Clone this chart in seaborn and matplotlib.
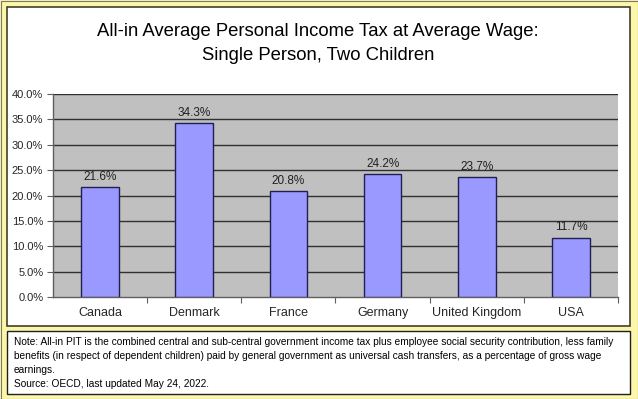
import matplotlib
matplotlib.use("Agg")
import matplotlib.pyplot as plt
import seaborn as sns
import pandas as pd
from matplotlib.patches import Rectangle
from matplotlib.ticker import FuncFormatter, FixedLocator

countries = ["Canada", "Denmark", "France", "Germany", "United Kingdom", "USA"]
values = [21.6, 34.3, 20.8, 24.2, 23.7, 11.7]
yticks = [0, 5, 10, 15, 20, 25, 30, 35, 40]
title_lines = ["All-in Average Personal Income Tax at Average Wage:",
               "Single Person, Two Children"]
note_lines = [
    "Note: All-in PIT is the combined central and sub-central government income tax plus employee social security contribution, less family",
    "benefits (in respect of dependent children) paid by general government as universal cash transfers, as a percentage of gross wage",
    "earnings.",
]
source = "Source: OECD, last updated May 24, 2022."

sns.set_theme(style="white")
plt.rcParams["font.family"] = ["Liberation Sans", "DejaVu Sans"]

W, H = 638, 399
fig = plt.figure(figsize=(W / 100, H / 100), dpi=100)
fig.patch.set_facecolor("#FBF6A8")

def px_rect(x0, y0, x1, y1, **kw):
    r = Rectangle((x0 / W, 1 - y1 / H), (x1 - x0) / W, (y1 - y0) / H,
                  transform=fig.transFigure, zorder=-5, **kw)
    fig.patches.append(r)

# outer border
px_rect(0.5, 0.5, W - 0.5, H - 0.5, facecolor="none", edgecolor="#777777", linewidth=0.8)
# chart panel
px_rect(7, 7, 630, 326, facecolor="white", edgecolor="#404030", linewidth=1.2)
# note panel
px_rect(7, 331, 630, 394, facecolor="white", edgecolor="#202020", linewidth=1.0)

ax = fig.add_axes([53 / W, 1 - 297 / H, (618 - 53) / W, (297 - 94) / H])
ax.set_zorder(5)
df = pd.DataFrame({"country": countries, "value": values})
sns.barplot(data=df, x="country", y="value", color="#9999FF", saturation=1,
            edgecolor="#202050", linewidth=1.0, width=0.4, ax=ax, zorder=3)
ax.set_facecolor("#C0C0C0")
ax.set_ylim(0, 40)
ax.set_xlim(-0.5, len(countries) - 0.5)
ax.yaxis.set_major_locator(FixedLocator(yticks))
ax.yaxis.set_major_formatter(FuncFormatter(lambda v, p: f"{v:.1f}%"))
for y in yticks[1:]:
    ax.axhline(y, color="#303030", linewidth=1.0, zorder=1)
ax.set_xlabel("")
ax.set_ylabel("")
for s in ["top", "right"]:
    ax.spines[s].set_visible(False)
for s in ["left", "bottom"]:
    ax.spines[s].set_color("#606060")
    ax.spines[s].set_linewidth(1.0)
ax.tick_params(axis="y", which="major", length=4, width=0.8, color="#606060",
               direction="out", labelsize=8, pad=3, left=True)
ax.tick_params(axis="x", which="major", length=0, labelsize=9, pad=7)
ax.set_xticks([i + 0.5 for i in range(len(countries))], minor=True)
ax.tick_params(axis="x", which="minor", length=4, width=0.8, color="#606060",
               direction="out", bottom=True)
for c in ax.containers:
    ax.bar_label(c, labels=[f"{v:.1f}%" for v in values], padding=3, fontsize=8.5,
                 color="#202020")

for t, y in zip(title_lines, [32, 55]):
    fig.text(318 / W, 1 - y / H, t, ha="center", va="center", fontsize=13.3,
             color="black")

ys = [342, 356, 370]
for t, y in zip(note_lines, ys):
    fig.text(14 / W, 1 - y / H, t, ha="left", va="center", fontsize=7.25, color="black")
fig.text(14 / W, 1 - 384 / H, source, ha="left", va="center", fontsize=7.25, color="black")

fig.savefig("out.png", dpi=100, facecolor=fig.get_facecolor())
